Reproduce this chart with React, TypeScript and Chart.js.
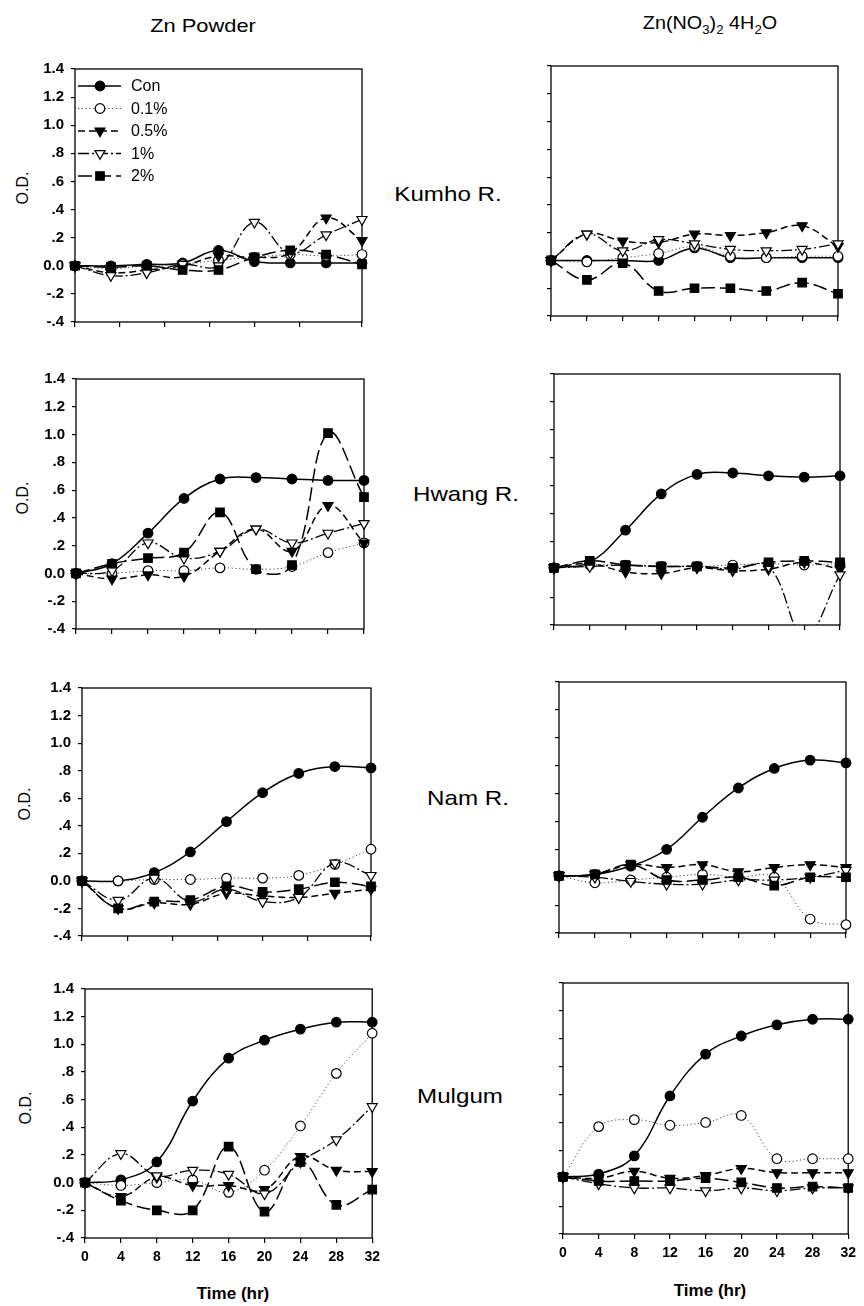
import React, { useEffect, useRef } from 'react';
import { Chart, registerables } from 'chart.js';

Chart.register(...registerables);
Chart.defaults.font.family = "'Liberation Sans', Arial, sans-serif";
Chart.defaults.color = '#000';

// ---------- data ----------
const hours = [0, 4, 8, 12, 16, 20, 24, 28, 32];
const seriesNames = ['Con', '0.1%', '0.5%', '1%', '2%'];
const yTickLabels = ['-.4', '-.2', '0.0', '.2', '.4', '.6', '.8', '1.0', '1.2', '1.4'];
const rowLabels = ['Kumho R.', 'Hwang R.', 'Nam R.', 'Mulgum'];

// each panel: rows in seriesNames order (Con, 0.1%, 0.5%, 1%, 2%)
const kumhoPowder = [
  [0, 0, 0.01, 0.02, 0.11, 0.03, 0.02, 0.02, 0.02],
  [0, -0.02, 0, 0.01, 0.04, 0.06, 0.08, 0.07, 0.08],
  [0, -0.05, -0.03, 0, 0.07, 0.06, 0.09, 0.34, 0.18],
  [0, -0.07, -0.05, 0.01, 0.0, 0.31, 0.09, 0.22, 0.33],
  [0, -0.01, 0.0, -0.03, -0.03, 0.06, 0.11, 0.08, 0.01],
];
const kumhoNitrate = [
  [0, 0, 0, 0, 0.09, 0.02, 0.02, 0.02, 0.02],
  [0, -0.01, 0.02, 0.05, 0.1, 0.03, 0.02, 0.03, 0.03],
  [0, 0.19, 0.14, 0.13, 0.19, 0.18, 0.2, 0.25, 0.1],
  [0, 0.19, 0.07, 0.15, 0.12, 0.08, 0.07, 0.08, 0.12],
  [0, -0.14, -0.02, -0.22, -0.2, -0.2, -0.22, -0.16, -0.24],
];
const hwangPowder = [
  [0, 0.07, 0.29, 0.54, 0.68, 0.69, 0.68, 0.67, 0.67],
  [0, 0.0, 0.02, 0.02, 0.04, 0.03, 0.05, 0.15, 0.22],
  [0, -0.04, -0.01, -0.02, 0.16, 0.32, 0.16, 0.49, 0.22],
  [0, 0.02, 0.22, 0.11, 0.16, 0.32, 0.22, 0.29, 0.36],
  [0, 0.07, 0.11, 0.15, 0.44, 0.03, 0.06, 1.01, 0.55],
];
const hwangNitrate = [
  [0.01, 0.05, 0.28, 0.54, 0.68, 0.69, 0.67, 0.66, 0.67],
  [0.01, 0.03, 0.03, 0.02, 0.02, 0.03, 0.04, 0.03, 0.04],
  [0.01, 0.04, -0.02, -0.03, 0.01, -0.01, 0.0, 0.05, 0.0],
  [0.01, 0.02, 0.03, 0.02, 0.02, 0.0, 0.02, -0.48, -0.04],
  [0.01, 0.06, 0.03, 0.02, 0.02, 0.01, 0.05, 0.06, 0.05],
];
const namPowder = [
  [0, 0, 0.06, 0.21, 0.43, 0.64, 0.78, 0.83, 0.82],
  [0, 0, 0.01, 0.01, 0.02, 0.02, 0.04, 0.12, 0.23],
  [0, -0.2, -0.16, -0.17, -0.09, -0.11, -0.12, -0.09, -0.06],
  [0, -0.14, 0.02, -0.15, -0.06, -0.15, -0.12, 0.13, 0.04],
  [0, -0.2, -0.15, -0.14, -0.04, -0.08, -0.06, -0.01, -0.04],
];
const namNitrate = [
  [0.01, 0.02, 0.08, 0.2, 0.43, 0.64, 0.78, 0.84, 0.82],
  [0.01, -0.04, -0.02, 0.0, 0.02, 0.0, 0.0, -0.3, -0.34],
  [0.01, 0.02, 0.09, 0.07, 0.09, 0.04, 0.07, 0.09, 0.07],
  [0.01, 0.0, -0.03, -0.05, -0.05, -0.02, -0.02, 0.0, 0.05],
  [0.01, 0.02, 0.09, -0.02, -0.02, 0.0, -0.06, 0.0, 0.0],
];
const mulgumPowder = [
  [0, 0.02, 0.15, 0.59, 0.9, 1.03, 1.11, 1.16, 1.16],
  [0, -0.02, 0.0, 0.02, -0.07, 0.09, 0.41, 0.79, 1.08],
  [0, -0.1, 0.04, -0.02, -0.02, -0.05, 0.19, 0.09, 0.08],
  [0, 0.21, 0.05, 0.09, 0.06, -0.08, 0.15, 0.31, 0.55],
  [0, -0.13, -0.2, -0.2, 0.26, -0.21, 0.15, -0.16, -0.05],
];
const mulgumNitrate = [
  [0.01, 0.03, 0.16, 0.59, 0.89, 1.02, 1.1, 1.14, 1.14],
  [0.01, 0.37, 0.42, 0.38, 0.4, 0.45, 0.14, 0.14, 0.14],
  [0.01, 0.0, 0.05, 0.0, 0.02, 0.07, 0.04, 0.04, 0.04],
  [0.01, -0.04, -0.07, -0.07, -0.09, -0.07, -0.09, -0.07, -0.07],
  [0.01, -0.02, -0.02, -0.02, 0.0, -0.03, -0.07, -0.06, -0.07],
];

// ---------- layout & styles ----------
type Box = [number, number, number, number]; // left, top, right, bottom (page px)
const panels: { data: number[][]; box: Box; left: boolean; bottom: boolean; xStep: number; legend?: boolean }[] = [
  { data: kumhoPowder, box: [75, 63, 362, 322], left: true, bottom: false, xStep: 5, legend: true },
  { data: kumhoNitrate, box: [551, 60, 838, 316], left: false, bottom: false, xStep: 4 },
  { data: hwangPowder, box: [76, 373, 364, 629], left: true, bottom: false, xStep: 4 },
  { data: hwangNitrate, box: [554, 368, 840, 625], left: false, bottom: false, xStep: 4 },
  { data: namPowder, box: [82, 682, 371, 936], left: true, bottom: false, xStep: 5 },
  { data: namNitrate, box: [559, 676, 846, 933], left: false, bottom: false, xStep: 4 },
  { data: mulgumPowder, box: [85, 983, 374, 1238], left: true, bottom: true, xStep: 4 },
  { data: mulgumNitrate, box: [563, 977, 850, 1234], left: false, bottom: true, xStep: 4 },
];

const styles = [
  { dash: [] as number[], width: 1.5, color: '#000', ps: 'circle', fill: true, r: 4.8, rot: 0 },
  { dash: [1.2, 2.6], width: 1, color: '#444', ps: 'circle', fill: false, r: 4.8, rot: 0 },
  { dash: [7, 4], width: 1.5, color: '#000', ps: 'triangle', fill: true, r: 5.8, rot: 180 },
  { dash: [11, 3, 2, 3], width: 1.3, color: '#000', ps: 'triangle', fill: false, r: 5.8, rot: 180 },
  { dash: [14, 5], width: 1.5, color: '#000', ps: 'rect', fill: true, r: 6, rot: 0 },
];

const PAD_L = 60, PAD_T = 10, PAD_R = 12, PAD_B = 34;

const framePlugin = {
  id: 'frame',
  beforeDatasetsDraw(chart: any) {
    const { ctx, chartArea: a } = chart;
    ctx.save();
    ctx.strokeStyle = '#000';
    ctx.lineWidth = 1.3;
    ctx.strokeRect(a.left, a.top, a.right - a.left, a.bottom - a.top);
    ctx.restore();
  },
};

function drawMarker(ctx: CanvasRenderingContext2D, i: number, x: number, y: number) {
  const s = styles[i];
  ctx.save();
  ctx.setLineDash([]);
  ctx.lineWidth = 1.2;
  ctx.strokeStyle = '#000';
  ctx.fillStyle = s.fill ? '#000' : '#fff';
  ctx.beginPath();
  if (s.ps === 'circle') ctx.arc(x, y, s.r, 0, Math.PI * 2);
  else if (s.ps === 'rect') {
    const h = s.r * Math.SQRT1_2;
    ctx.rect(x - h, y - h, 2 * h, 2 * h);
  } else {
    const r = s.r;
    ctx.moveTo(x, y + r);
    ctx.lineTo(x - r * 0.866, y - r * 0.5);
    ctx.lineTo(x + r * 0.866, y - r * 0.5);
    ctx.closePath();
  }
  ctx.fill();
  ctx.stroke();
  ctx.restore();
}

const legendPlugin = {
  id: 'insideLegend',
  afterDraw(chart: any) {
    const { ctx, chartArea: a } = chart;
    ctx.save();
    ctx.font = "16px 'Liberation Sans', Arial, sans-serif";
    ctx.textBaseline = 'middle';
    seriesNames.forEach((name, i) => {
      const y = a.top + 17 + i * 22.5;
      const s = styles[i];
      ctx.save();
      ctx.strokeStyle = s.color;
      ctx.lineWidth = s.width;
      ctx.setLineDash(s.dash);
      ctx.beginPath();
      ctx.moveTo(a.left + 3, y);
      ctx.lineTo(a.left + 46, y);
      ctx.stroke();
      ctx.restore();
      drawMarker(ctx, i, a.left + 25, y);
      ctx.fillStyle = '#000';
      ctx.fillText(name, a.left + 56, y + 1);
    });
    ctx.restore();
  },
};

function Panel({ p }: { p: (typeof panels)[number] }) {
  const ref = useRef<HTMLCanvasElement>(null);
  const [l, t, r, b] = p.box;
  const w = PAD_L + (r - l) + PAD_R;
  const h = PAD_T + (b - t) + PAD_B;
  useEffect(() => {
    const chart = new Chart(ref.current as HTMLCanvasElement, {
      type: 'line',
      data: {
        datasets: p.data.map((vals, i) => {
          const s = styles[i];
          return {
            label: seriesNames[i],
            data: hours.map((hr, j) => ({ x: hr, y: vals[j] })),
            borderColor: s.color,
            borderWidth: s.width,
            borderDash: s.dash,
            tension: 0.4,
            pointStyle: s.ps as any,
            pointRadius: s.r,
            pointRotation: s.rot,
            pointBackgroundColor: s.fill ? '#000' : '#fff',
            pointBorderColor: '#000',
            pointBorderWidth: 1.2,
            clip: { left: 10, right: 10, top: 10, bottom: 0 },
            order: 5 - i,
          } as any;
        }),
      },
      options: {
        animation: false,
        responsive: false,
        devicePixelRatio: 1,
        events: [],
        layout: { padding: { left: 0, top: PAD_T, right: PAD_R, bottom: 0 } },
        plugins: { legend: { display: false }, tooltip: { enabled: false } },
        scales: {
          x: {
            type: 'linear',
            min: 0,
            max: 32,
            grid: { drawOnChartArea: false, drawTicks: true, tickLength: 5, color: '#000', lineWidth: 1.2 },
            border: { display: false },
            ticks: {
              stepSize: p.xStep,
              autoSkip: false,
              maxRotation: 0,
              padding: 6,
              font: { size: 14, weight: 'bold' },
              callback: (v: any) => (p.bottom ? String(v) : ''),
            },
            afterFit: (s: any) => {
              s.height = PAD_B;
            },
          },
          y: {
            min: -0.4,
            max: 1.4,
            grid: { drawOnChartArea: false, drawTicks: true, tickLength: 4, color: '#000', lineWidth: 1.2 },
            border: { display: false },
            ticks: {
              stepSize: 0.2,
              autoSkip: false,
              padding: 7,
              font: { size: 15, weight: 'bold' },
              callback: (v: any) => (p.left ? yTickLabels[Math.round((Number(v) + 0.4) / 0.2)] : ''),
            },
            afterFit: (s: any) => {
              s.width = PAD_L;
            },
          },
        },
      } as any,
      plugins: p.legend ? [framePlugin, legendPlugin] : [framePlugin],
    });
    return () => chart.destroy();
  }, []);
  return (
    <canvas
      ref={ref}
      width={w}
      height={h}
      style={{ position: 'absolute', left: l - PAD_L, top: t - PAD_T, width: w, height: h }}
    />
  );
}

const font = "'Liberation Sans', Arial, sans-serif";

function Label({ x, y, size, bold, children, rotate, sx }: any) {
  return (
    <div
      style={{
        position: 'absolute',
        left: x,
        top: y,
        transform: `translate(-50%, -50%)${rotate ? ' rotate(-90deg)' : ''}${sx ? ` scaleX(${sx})` : ''}`,
        fontFamily: font,
        fontSize: size,
        fontWeight: bold ? 'bold' : 'normal',
        whiteSpace: 'nowrap',
        color: '#000',
        lineHeight: 1,
      }}
    >
      {children}
    </div>
  );
}

const rowLabelPos: [number, number][] = [
  [448, 193],
  [466, 493],
  [468, 797],
  [460, 1095],
];
const odPos: [number, number][] = [
  [23, 188],
  [23, 498],
  [25, 804],
  [26, 1108],
];

export default function App() {
  return (
    <div style={{ position: 'absolute', left: 0, top: 0, width: 864, height: 1306, background: '#fff', overflow: 'hidden' }}>
      <Label x={203} y={25} size={19} sx={1.15}>Zn Powder</Label>
      <Label x={710} y={25} size={18} sx={1.1}>
        Zn(NO<sub style={{ fontSize: 12 }}>3</sub>)<sub style={{ fontSize: 12 }}>2</sub> 4H<sub style={{ fontSize: 12 }}>2</sub>O
      </Label>
      {rowLabels.map((t, i) => (
        <Label key={t} x={rowLabelPos[i][0]} y={rowLabelPos[i][1]} size={21} sx={1.15}>
          {t}
        </Label>
      ))}
      {odPos.map((pos, i) => (
        <Label key={i} x={pos[0]} y={pos[1]} size={16} rotate>
          O.D.
        </Label>
      ))}
      <Label x={233} y={1293} size={17} bold>Time (hr)</Label>
      <Label x={710} y={1290} size={17} bold>Time (hr)</Label>
      {panels.map((p, i) => (
        <Panel key={i} p={p} />
      ))}
    </div>
  );
}
